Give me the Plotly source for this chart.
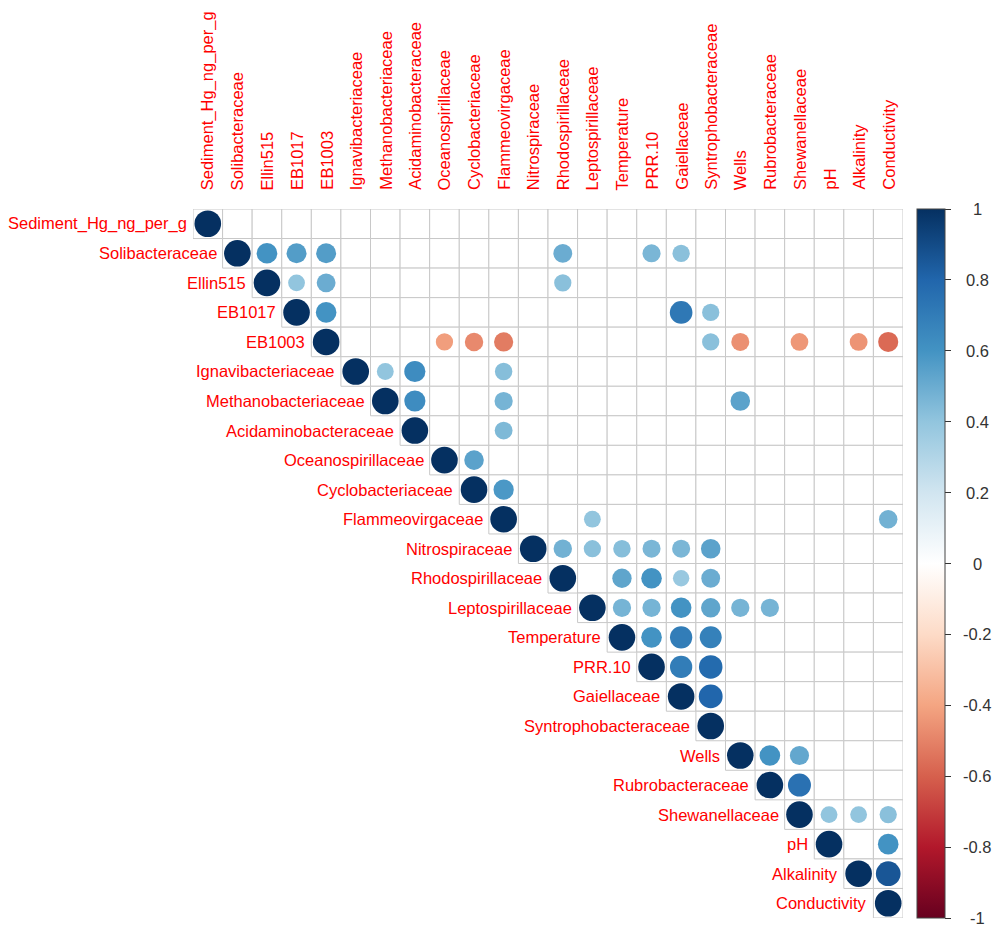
import plotly.graph_objects as go
import numpy as np

variables = ["Sediment_Hg_ng_per_g", "Solibacteraceae", "Ellin515", "EB1017", "EB1003",
             "Ignavibacteriaceae", "Methanobacteriaceae", "Acidaminobacteraceae",
             "Oceanospirillaceae", "Cyclobacteriaceae", "Flammeovirgaceae", "Nitrospiraceae",
             "Rhodospirillaceae", "Leptospirillaceae", "Temperature", "PRR.10", "Gaiellaceae",
             "Syntrophobacteraceae", "Wells", "Rubrobacteraceae", "Shewanellaceae", "pH",
             "Alkalinity", "Conductivity"]

# significant correlations (row index, column index, r)
sig_row = [0,
           1, 1, 1, 1, 1, 1, 1,
           2, 2, 2, 2,
           3, 3, 3, 3,
           4, 4, 4, 4, 4, 4, 4, 4, 4,
           5, 5, 5, 5,
           6, 6, 6, 6,
           7, 7,
           8, 8,
           9, 9,
           10, 10, 10,
           11, 11, 11, 11, 11, 11, 11,
           12, 12, 12, 12, 12,
           13, 13, 13, 13, 13, 13, 13,
           14, 14, 14, 14,
           15, 15, 15,
           16, 16,
           17,
           18, 18, 18,
           19, 19,
           20, 20, 20, 20,
           21, 21,
           22, 22,
           23]
sig_col = [0,
           1, 2, 3, 4, 12, 15, 16,
           2, 3, 4, 12,
           3, 4, 16, 17,
           4, 8, 9, 10, 17, 18, 20, 22, 23,
           5, 6, 7, 10,
           6, 7, 10, 18,
           7, 10,
           8, 9,
           9, 10,
           10, 13, 23,
           11, 12, 13, 14, 15, 16, 17,
           12, 14, 15, 16, 17,
           13, 14, 15, 16, 17, 18, 19,
           14, 15, 16, 17,
           15, 16, 17,
           16, 17,
           17,
           18, 19, 20,
           19, 20,
           20, 21, 22, 23,
           21, 23,
           22, 23,
           23]
sig_r = [1,
         1, 0.6, 0.56, 0.56, 0.5, 0.46, 0.42,
         1, 0.4, 0.5, 0.42,
         1, 0.6, 0.72, 0.42,
         1, -0.42, -0.48, -0.52, 0.42, -0.46, -0.44, -0.45, -0.57,
         1, 0.4, 0.63, 0.43,
         1, 0.63, 0.47, 0.54,
         1, 0.45,
         1, 0.54,
         1, 0.58,
         1, 0.4, 0.48,
         1, 0.48, 0.42, 0.43, 0.46, 0.46, 0.54,
         1, 0.53, 0.6, 0.38, 0.5,
         1, 0.47, 0.47, 0.6, 0.53, 0.47, 0.47,
         1, 0.6, 0.7, 0.68,
         1, 0.7, 0.78,
         1, 0.8,
         1,
         1, 0.6, 0.52,
         1, 0.75,
         1, 0.4, 0.4, 0.42,
         1, 0.6,
         1, 0.86,
         1]

cbar_ticks = [1, 0.8, 0.6, 0.4, 0.2, 0, -0.2, -0.4, -0.6, -0.8, -1]
cbar_labels = ["1", "0.8", "0.6", "0.4", "0.2", "0", "-0.2", "-0.4", "-0.6", "-0.8", "-1"]

rdbu = ["#67001F", "#B2182B", "#D6604D", "#F4A582", "#FDDBC7", "#FFFFFF",
        "#D1E5F0", "#92C5DE", "#4393C3", "#2166AC", "#053061"]
colorscale = [[k / 10, c] for k, c in enumerate(rdbu)]

W, H = 1000, 931
ML, MR, MT, MB = 193, 97, 209, 13
n = len(variables)
cell = (W - ML - MR) / n

label_font = dict(family="Liberation Sans, Arial, sans-serif", size=16.5, color="#FF0000")

fig = go.Figure()

# grid cells for the upper triangle
shapes = []
for i in range(n):
    for j in range(i, n):
        shapes.append(dict(type="rect", xref="x", yref="y",
                           x0=j - 0.5, x1=j + 0.5, y0=i - 0.5, y1=i + 0.5,
                           line=dict(color="#C8C8C8", width=1), fillcolor="white",
                           layer="below"))

sizes = [0.9 * np.sqrt(abs(r)) * cell for r in sig_r]

fig.add_trace(go.Scatter(
    x=sig_col, y=sig_row, mode="markers",
    marker=dict(size=sizes, color=sig_r, colorscale=colorscale, cmin=-1, cmax=1,
                line=dict(width=0), opacity=1,
                colorbar=dict(x=(916.7 - ML) / (W - ML - MR), xanchor="left", xpad=0,
                              y=0.5, yanchor="middle", len=1, lenmode="fraction", ypad=0,
                              thickness=27.5, outlinecolor="#444444", outlinewidth=1,
                              tickmode="array", tickvals=cbar_ticks, ticks="outside",
                              ticklen=6, tickcolor="#333333", tickwidth=1,
                              showticklabels=False)),
    hoverinfo="skip", showlegend=False))

# invisible helper trace for the colorbar label axis
fig.add_trace(go.Scatter(x=[0], y=[0], yaxis="y2", mode="markers",
                         marker=dict(opacity=0), hoverinfo="skip", showlegend=False))

annotations = []
for i, name in enumerate(variables):
    annotations.append(dict(x=i - 0.5, y=i, xref="x", yref="y", text=name,
                            showarrow=False, xanchor="right", yanchor="middle",
                            xshift=-4, font=label_font))
    annotations.append(dict(x=i, y=1, xref="x", yref="paper", text=name,
                            showarrow=False, xanchor="center", yanchor="bottom",
                            textangle=-90, yshift=17, font=label_font))
for v, t in zip(cbar_ticks, cbar_labels):
    annotations.append(dict(x=(977 - ML) / (W - ML - MR), y=v, xref="paper", yref="y2",
                            text=t, showarrow=False, xanchor="center", yanchor="middle",
                            font=dict(family="Liberation Sans, Arial, sans-serif",
                                      size=16.5, color="#333333")))

fig.update_layout(
    width=W, height=H,
    margin=dict(l=ML, r=MR, t=MT, b=MB, pad=0),
    plot_bgcolor="white", paper_bgcolor="white",
    xaxis=dict(range=[-0.5, n - 0.5], visible=False, fixedrange=True),
    yaxis=dict(range=[n - 0.5, -0.5], visible=False, fixedrange=True),
    yaxis2=dict(range=[-1, 1], overlaying="y", visible=False, fixedrange=True),
    shapes=shapes, annotations=annotations,
)

fig.write_html("out.html", config={"displayModeBar": False, "staticPlot": True},
               post_script="document.body.style.margin='0';document.body.style.overflow='hidden';")
